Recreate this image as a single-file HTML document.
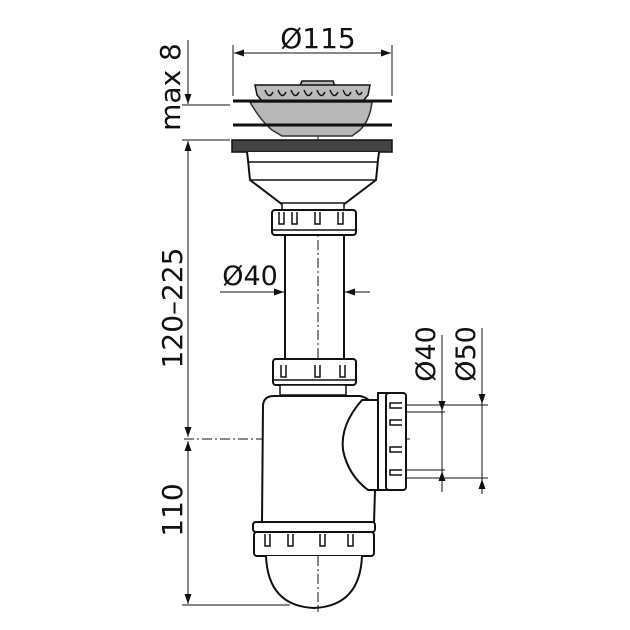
<!DOCTYPE html>
<html><head><meta charset="utf-8"><style>
html,body{margin:0;padding:0;background:#fff;}
svg{display:block;}
text{font-family:"DejaVu Sans","Liberation Sans",sans-serif;fill:#111;}
</style></head><body>
<svg width="630" height="630" viewBox="0 0 630 630" xmlns="http://www.w3.org/2000/svg">
<defs>
<marker id="a" viewBox="0 0 10 10" refX="10" refY="5" markerWidth="10" markerHeight="10" markerUnits="userSpaceOnUse" orient="auto"><path d="M0,1.5 L10,5 L0,8.5 Z" fill="#111"/></marker>
</defs>
<g stroke="#111" fill="none">
<line x1="233" y1="45" x2="233" y2="96" stroke-width="1"/>
<line x1="392" y1="45" x2="392" y2="96" stroke-width="1"/>
<line x1="300" y1="53" x2="234" y2="53" stroke-width="1" marker-end="url(#a)"/>
<line x1="300" y1="53" x2="391" y2="53" stroke-width="1" marker-end="url(#a)"/>
<line x1="188" y1="40" x2="188" y2="104" stroke-width="1" marker-end="url(#a)"/>
<line x1="188" y1="250" x2="188" y2="141" stroke-width="1" marker-end="url(#a)"/>
<line x1="188" y1="250" x2="188" y2="437" stroke-width="1" marker-end="url(#a)"/>
<line x1="188" y1="520" x2="188" y2="441" stroke-width="1" marker-end="url(#a)"/>
<line x1="188" y1="520" x2="188" y2="604" stroke-width="1" marker-end="url(#a)"/>
<line x1="182" y1="105" x2="230" y2="105" stroke-width="1"/>
<line x1="182" y1="140" x2="230" y2="140" stroke-width="1"/>
<line x1="182" y1="605" x2="290" y2="605" stroke-width="1"/>
<line x1="318" y1="96" x2="318" y2="612" stroke-width="1" stroke-dasharray="10,3,2,3"/>
<line x1="184" y1="439" x2="412" y2="439" stroke-width="1" stroke-dasharray="10,3,2,3"/>
<path d="M300,86 L302,81 L333,81 L335,86" stroke-width="1.5" fill="#bbb"/>
<path d="M255,85 L370,85 L368,95 L363,101 L262,101 L257,95 Z" stroke-width="1.5" fill="#bbb"/>
<path d="M265,90 q4,10 8,2 M278,90 q4,10 8,2 M291,90 q4,10 8,2 M304,90 q4,10 8,2 M317,90 q4,10 8,2 M330,90 q4,10 8,2 M343,90 q4,10 8,2 M356,90 q3,8 6,2" stroke-width="1.5"/>
<path d="M250,102 L372,102 Q370,120 360,130 L352,136 L282,136 L272,130 Q260,120 250,102 Z" stroke="#333" stroke-width="1.5" fill="#b8b8b8"/>
<line x1="233" y1="101" x2="392" y2="101" stroke-width="3"/>
<line x1="233" y1="125" x2="392" y2="125" stroke-width="3"/>
<rect x="232" y="140" width="160" height="12" fill="#444" stroke-width="1.5"/>
<path d="M247,152 L248,160 L250,180 L283,205 L343,205 L376,180 L378,160 L379,152" stroke-width="2" fill="#fff"/>
<line x1="249" y1="162" x2="377" y2="162" stroke-width="1.5"/>
<line x1="250" y1="180" x2="376" y2="180" stroke-width="1.5"/>
<rect x="282" y="203" width="62" height="8" stroke-width="1.5" fill="#fff"/>
<rect x="272" y="210" width="84" height="25" rx="3" stroke-width="2" fill="#fff"/>
<path d="M279,212 v12 h5 v-12 M292,212 v12 h5 v-12 M315,212 v12 h5 v-12 M338,212 v12 h5 v-12" stroke-width="1.5"/>
<line x1="273" y1="230" x2="355" y2="230" stroke-width="1.5"/>
<line x1="285" y1="235" x2="285" y2="359" stroke-width="2"/>
<line x1="344" y1="235" x2="344" y2="359" stroke-width="2"/>
<line x1="220" y1="292" x2="284" y2="292" stroke-width="1" marker-end="url(#a)"/>
<line x1="370" y1="292" x2="345" y2="292" stroke-width="1" marker-end="url(#a)"/>
<rect x="273" y="359" width="83" height="26" rx="3" stroke-width="2" fill="#fff"/>
<path d="M281,365 v12 h5 v-12 M315,365 v12 h5 v-12 M340,365 v12 h5 v-12" stroke-width="1.5"/>
<line x1="274" y1="380" x2="355" y2="380" stroke-width="1.5"/>
<rect x="280" y="385" width="66" height="10" stroke-width="1.5" fill="#fff"/>
<path d="M262,523 L263,405 Q264,396 274,396 L360,396 Q370,398 375,408 L375,490 L374,523 Z" stroke-width="2" fill="#fff"/>
<path d="M362,400 Q340,425 343,450 Q348,475 368,490 L378,490 L378,400 Z" stroke-width="2" fill="#fff"/>
<rect x="378" y="393" width="10" height="97" stroke-width="2" fill="#fff"/>
<rect x="386" y="393" width="20" height="97" rx="3" stroke-width="2" fill="#fff"/>
<path d="M402,403 h-12 v5 h12 M402,420 h-12 v5 h12 M402,447 h-12 v5 h12 M402,470 h-12 v5 h12" stroke-width="1.5"/>
<line x1="406" y1="405" x2="488" y2="405" stroke-width="1"/>
<line x1="406" y1="412" x2="445" y2="412" stroke-width="1"/>
<line x1="406" y1="470" x2="445" y2="470" stroke-width="1"/>
<line x1="406" y1="478" x2="488" y2="478" stroke-width="1"/>
<line x1="442" y1="335" x2="442" y2="411" stroke-width="1" marker-end="url(#a)"/>
<line x1="442" y1="492" x2="442" y2="471" stroke-width="1" marker-end="url(#a)"/>
<line x1="442" y1="411" x2="442" y2="471" stroke-width="1"/>
<line x1="482" y1="328" x2="482" y2="404" stroke-width="1" marker-end="url(#a)"/>
<line x1="482" y1="494" x2="482" y2="479" stroke-width="1" marker-end="url(#a)"/>
<line x1="482" y1="404" x2="482" y2="479" stroke-width="1"/>
<rect x="253" y="522" width="122" height="10" rx="3" stroke-width="2" fill="#fff"/>
<rect x="254" y="532" width="120" height="24" rx="3" stroke-width="2" fill="#fff"/>
<path d="M265,534 v12 h5 v-12 M288,534 v12 h5 v-12 M320,534 v12 h5 v-12 M348,534 v12 h5 v-12" stroke-width="1.5"/>
<path d="M266,556 Q268,606 314,608 Q360,606 362,556" stroke-width="2" fill="#fff"/>
<line x1="318" y1="556" x2="318" y2="612" stroke-width="1" stroke-dasharray="10,3,2,3"/>
</g>
<text x="318" y="48" font-size="28" text-anchor="middle">Ø115</text>
<text x="250" y="285" font-size="27" text-anchor="middle">Ø40</text>
<text transform="translate(180,87) rotate(-90)" font-size="28" text-anchor="middle">max 8</text>
<text transform="translate(182,308) rotate(-90)" font-size="28" text-anchor="middle">120–225</text>
<text transform="translate(182,510) rotate(-90)" font-size="28" text-anchor="middle">110</text>
<text transform="translate(435,354) rotate(-90)" font-size="27" text-anchor="middle">Ø40</text>
<text transform="translate(475,354) rotate(-90)" font-size="27" text-anchor="middle">Ø50</text>
</svg>
</body></html>
